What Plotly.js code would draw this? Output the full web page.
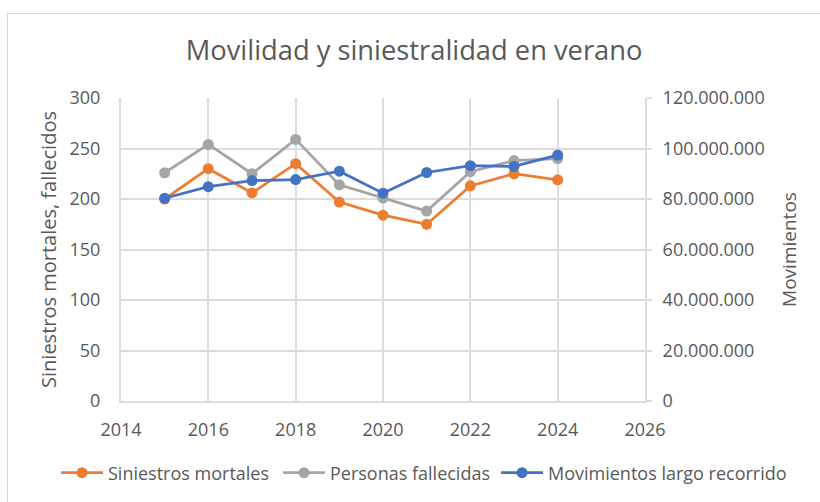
<!DOCTYPE html>
<html>
<head>
<meta charset="utf-8">
<script src="https://cdn.plot.ly/plotly-3.0.1.min.js"></script>
<style>
  html, body { margin: 0; padding: 0; background: #ffffff; }
  #wrap { position: relative; width: 820px; height: 502px; overflow: hidden; }
  #chart { width: 820px; height: 502px; }
  #frame { position: absolute; left: 7px; top: 13px; width: 900px; height: 600px;
           border-left: 1px solid #d9d9d9; border-top: 1px solid #d9d9d9; pointer-events: none; }
</style>
</head>
<body>
<div id="wrap">
  <div id="chart"></div>
  <div id="frame"></div>
</div>
<script>
const years = [2015, 2016, 2017, 2018, 2019, 2020, 2021, 2022, 2023, 2024];
const siniestrosMortales = [200, 230, 206, 235, 197, 184, 175, 213, 225, 219];
const personasFallecidas = [226, 254, 225, 259, 214, 201, 188, 227, 238, 240];
const movimientosLargoRecorrido = [80300000, 84900000, 87300000, 87700000, 91000000, 82300000, 90500000, 93200000, 92900000, 97400000];

const txt = '#595959';
const grid = '#dcdcdc';
const font = 'Open Sans, Noto Sans, sans-serif';

const traces = [
  { x: years, y: siniestrosMortales, name: 'Siniestros mortales', type: 'scatter', mode: 'lines+markers',
    legend: 'legend', line: { color: '#ED7D31', width: 2.75 }, marker: { color: '#ED7D31', size: 11 } },
  { x: years, y: personasFallecidas, name: 'Personas fallecidas', type: 'scatter', mode: 'lines+markers',
    legend: 'legend2', line: { color: '#A5A5A5', width: 2.75 }, marker: { color: '#A5A5A5', size: 11 } },
  { x: years, y: movimientosLargoRecorrido, name: 'Movimientos largo recorrido', type: 'scatter', mode: 'lines+markers',
    legend: 'legend3', yaxis: 'y2', line: { color: '#4472C4', width: 2.75 }, marker: { color: '#4472C4', size: 11 } }
];

function leg(px) {
  return { orientation: 'h', xref: 'container', yref: 'container', x: px / 820, xanchor: 'left',
           y: 1 - 473 / 502, yanchor: 'middle', font: { size: 18, color: txt },
           bgcolor: 'rgba(0,0,0,0)', itemwidth: 42, borderwidth: 0 };
}

const layout = {
  width: 820, height: 502,
  margin: { l: 121, r: 175, t: 98, b: 101 },
  paper_bgcolor: '#ffffff', plot_bgcolor: '#ffffff',
  separators: ',.',
  font: { family: font, color: txt, size: 18 },
  title: { text: 'Movilidad y siniestralidad en verano', font: { family: font, size: 27.3, color: txt },
           x: 0.505, xref: 'container', xanchor: 'center', y: 0.9, yref: 'container', yanchor: 'middle' },
  xaxis: { range: [2014, 2026], dtick: 2, tick0: 2014, showgrid: true, gridcolor: grid, gridwidth: 2,
           showline: true, linecolor: grid, linewidth: 2, zeroline: false, ticks: '', automargin: false,
           ticklabelstandoff: 11, tickfont: { size: 18, color: txt }, fixedrange: true },
  yaxis: { range: [0, 300], dtick: 50, showgrid: true, gridcolor: grid, gridwidth: 2, automargin: false,
           showline: true, linecolor: grid, linewidth: 2, zeroline: false, ticks: '',
           ticklabelstandoff: 15, tickfont: { size: 18, color: txt },
           title: { text: 'Siniestros mortales, fallecidos', font: { size: 20, color: txt }, standoff: 8 } },
  yaxis2: { range: [0, 120000000], dtick: 20000000, overlaying: 'y', side: 'right', showgrid: false,
            showline: true, linecolor: grid, linewidth: 2, zeroline: false, ticks: 'outside', ticklen: 5,
            tickcolor: grid, tickwidth: 2, tickformat: ',d', ticklabelstandoff: 7, automargin: false,
            tickfont: { size: 18, color: txt },
            title: { text: 'Movimientos', font: { size: 19, color: txt }, standoff: 19 } },
  showlegend: true,
  legend: leg(56),
  legend2: leg(278),
  legend3: leg(496)
};

Plotly.newPlot('chart', traces, layout, { displayModeBar: false, staticPlot: true });
</script>
</body>
</html>
